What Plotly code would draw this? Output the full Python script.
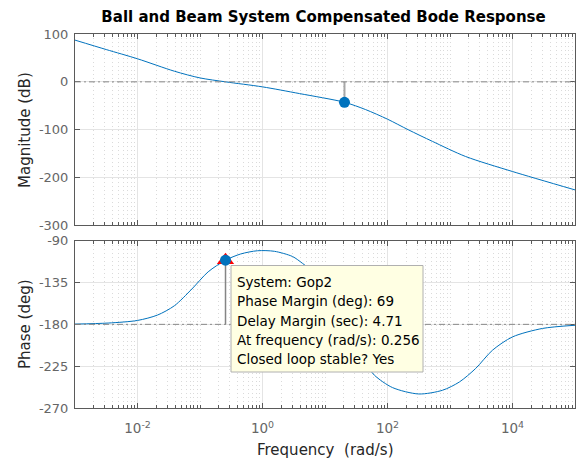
import plotly.graph_objects as go

# Open-loop frequency response of Gop2: magnitude (dB) vs frequency (rad/s)
mag_freq = [1e-3, 3.16e-3, 1e-2, 0.039, 0.1, 0.256, 1.0, 3.9, 20.5, 44.7, 100, 214, 525, 1778, 1e4, 1e5]
mag_db = [87.2, 67.5, 48.2, 22.2, 8.2, 0.0, -10.5, -24.5, -42.7, -58.0, -78.0, -100.0, -124.5, -156.0, -187.4, -225.8]

# Phase (deg) vs frequency (rad/s)
phase_freq = [1e-3, 3.39e-3, 1e-2, 0.0209, 0.0389, 0.0741, 0.135, 0.256, 0.447, 0.832, 1.55,
              3.02, 4.37, 6.31, 10.0, 15.8, 20.5, 31.6, 44.7, 61.7, 120, 316, 759, 1413,
              2570, 4786, 1e4, 3.02e4, 1e5]
phase_deg = [-179.7, -178.6, -175.8, -170.0, -160.0, -142.0, -123.5, -111.0, -104.3, -100.8, -101.4,
             -107.0, -114.4, -123.0, -140.0, -166.0, -180.0, -205.0, -222.0, -234.7, -248.0, -254.9,
             -250.9, -242.0, -227.5, -207.8, -193.5, -184.4, -181.0]

# Stability margins
system_name = "Gop2"
pm_freq = 0.256      # gain crossover (rad/s)
pm_deg = 69          # phase margin (deg)
delay_margin = 4.71  # delay margin (sec)
gm_freq = 20.5       # phase crossover (rad/s)
gm_db = -42.7        # magnitude at phase crossover (dB)

# Axis ticks
x_ticks = [1e-2, 1e0, 1e2, 1e4]
x_ticktext = ["10<sup>-2</sup>", "10<sup>0</sup>", "10<sup>2</sup>", "10<sup>4</sup>"]
mag_ticks = [100, 0, -100, -200, -300]
phase_ticks = [-90, -135, -180, -225, -270]

FONT = "DejaVu Sans"
BLUE = "#0072BD"
AXC = "#5a5a5a"
TICKC = "#666666"

fig = go.Figure()

# Reference lines (0 dB and -180 deg)
fig.add_shape(type="line", xref="x domain", yref="y", x0=0, x1=1, y0=0, y1=0,
              line=dict(color="#8a8a8a", width=1, dash="6px,3px,2px,3px"), layer="above")
fig.add_shape(type="line", xref="x2 domain", yref="y2", x0=0, x1=1, y0=-180, y1=-180,
              line=dict(color="#8a8a8a", width=1, dash="6px,3px,2px,3px"), layer="above")

# Magnitude response
fig.add_trace(go.Scatter(x=mag_freq, y=mag_db, mode="lines",
                         line=dict(color=BLUE, width=1, shape="spline", smoothing=0.8),
                         xaxis="x", yaxis="y", hoverinfo="skip"))
# Gain margin indicator
fig.add_trace(go.Scatter(x=[gm_freq, gm_freq], y=[0, gm_db], mode="lines",
                         line=dict(color="#a8a8a8", width=2), xaxis="x", yaxis="y", hoverinfo="skip"))
fig.add_trace(go.Scatter(x=[gm_freq], y=[gm_db], mode="markers",
                         marker=dict(color=BLUE, size=11, line=dict(width=0)), xaxis="x", yaxis="y"))

# Phase response
fig.add_trace(go.Scatter(x=phase_freq, y=phase_deg, mode="lines",
                         line=dict(color=BLUE, width=1, shape="spline", smoothing=0.8),
                         xaxis="x2", yaxis="y2", hoverinfo="skip"))
# Phase margin indicator
fig.add_trace(go.Scatter(x=[pm_freq, pm_freq], y=[-180, -180 + pm_deg], mode="lines",
                         line=dict(color="#858585", width=1.5), xaxis="x2", yaxis="y2", hoverinfo="skip"))
fig.add_trace(go.Scatter(x=[pm_freq], y=[-180 + pm_deg], mode="markers",
                         marker=dict(color="#ff0000", size=15, symbol="triangle-up", line=dict(width=0)),
                         xaxis="x2", yaxis="y2"))
fig.add_trace(go.Scatter(x=[pm_freq], y=[-180 + pm_deg], mode="markers",
                         marker=dict(color=BLUE, size=11, line=dict(width=0)), xaxis="x2", yaxis="y2"))

# Data tip box
L, T, W, H = 75, 34, 500, 374
def px(xp):
    return (xp - L) / W
def py(yp):
    return (T + H - yp) / H

fig.add_shape(type="rect", xref="paper", yref="paper", x0=px(231), x1=px(423), y0=py(372), y1=py(265.5),
              fillcolor="#ffffe3", line=dict(color="#b0b0b0", width=1), layer="above")
tip_lines = [
    f"System: {system_name}",
    f"Phase Margin (deg): {pm_deg}",
    f"Delay Margin (sec): {delay_margin}",
    f"At frequency (rad/s): {pm_freq}",
    "Closed loop stable? Yes",
]
annotations = []
for i, t in enumerate(tip_lines):
    annotations.append(dict(text=t, xref="paper", yref="paper", x=px(235), y=py(281.7 + i * 19.4),
                            xanchor="left", yanchor="middle", showarrow=False,
                            font=dict(family=FONT, size=13.5, color="#000000")))

# Axis titles
annotations += [
    dict(text="Magnitude (dB)", xref="paper", yref="paper", x=px(25), y=py(130), textangle=-90,
         xanchor="center", yanchor="middle", showarrow=False, font=dict(family=FONT, size=15, color="#262626")),
    dict(text="Phase (deg)", xref="paper", yref="paper", x=px(25), y=py(324), textangle=-90,
         xanchor="center", yanchor="middle", showarrow=False, font=dict(family=FONT, size=15, color="#262626")),
    dict(text="Frequency\u00a0 (rad/s)", xref="paper", yref="paper", x=px(325), y=py(450),
         xanchor="center", yanchor="middle", showarrow=False, font=dict(family=FONT, size=15, color="#262626")),
]

xcommon = dict(type="log", range=[-3, 5], tickmode="array", tickvals=x_ticks, ticktext=x_ticktext,
               ticks="inside", ticklen=5, tickcolor=AXC, tickwidth=1,
               showline=True, linecolor=AXC, linewidth=1, mirror="allticks",
               showgrid=True, gridcolor="#e4e4e4", gridwidth=1,
               minor=dict(dtick="D1", ticks="inside", ticklen=3, tickcolor=AXC, showgrid=True,
                          gridcolor="#dadada", griddash="1px,3px", gridwidth=1),
               tickfont=dict(family=FONT, size=13.5, color=TICKC))
ycommon = dict(tickmode="array", ticks="inside", ticklen=5, tickcolor=AXC, tickwidth=1,
               showline=True, linecolor=AXC, linewidth=1, mirror="allticks",
               showgrid=True, gridcolor="#e4e4e4", gridwidth=1, zeroline=False,
               tickfont=dict(family=FONT, size=13, color=TICKC), ticklabelstandoff=3)

fig.update_layout(
    width=576, height=461,
    margin=dict(l=L, r=576 - L - W, t=T, b=461 - T - H),
    paper_bgcolor="white", plot_bgcolor="white",
    showlegend=False,
    title=dict(text="<b>Ball and Beam System Compensated Bode Response</b>", xref="container", yref="container",
               x=323.5 / 576, y=1 - 17 / 461, xanchor="center", yanchor="middle",
               font=dict(family=FONT, size=15, color="#000000")),
    xaxis=dict(**xcommon, domain=[0, 1], anchor="y", showticklabels=False),
    yaxis=dict(**ycommon, domain=[py(225.4), 1], range=[-300, 100], tickvals=mag_ticks,
               ticktext=[str(v) for v in mag_ticks], anchor="x"),
    xaxis2=dict(**xcommon, domain=[0, 1], anchor="y2", matches="x", ticklabelstandoff=8),
    yaxis2=dict(**ycommon, domain=[0, py(240.7)], range=[-270, -90], tickvals=phase_ticks,
                ticktext=[str(v) for v in phase_ticks], anchor="x2"),
    annotations=annotations,
)

fig.write_html("out.html")
